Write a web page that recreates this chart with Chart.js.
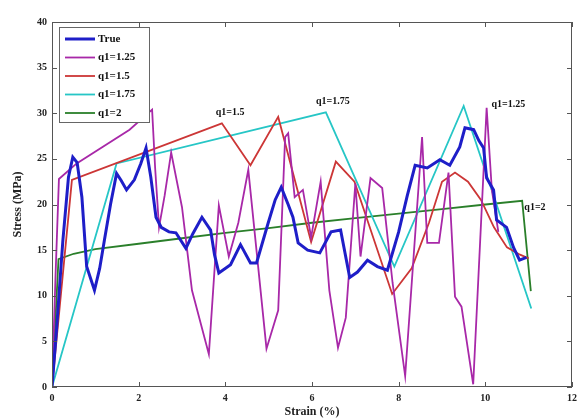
<!DOCTYPE html>
<html>
<head>
<meta charset="utf-8">
<script src="https://cdn.jsdelivr.net/npm/chart.js@4.4.0/dist/chart.umd.min.js"></script>
<style>
  html, body { margin: 0; padding: 0; background: #fff; }
</style>
</head>
<body>
<canvas id="stressChart" width="582" height="419"></canvas>
<script>
// measured curve (True)
var trueStrain = [0, 0.1, 0.25, 0.38, 0.48, 0.58, 0.69, 0.8, 0.98, 1.1, 1.21, 1.35, 1.49, 1.6, 1.72, 1.9, 2.05, 2.17, 2.28, 2.4, 2.52, 2.7, 2.86, 3.09, 3.25, 3.46, 3.66, 3.75, 3.85, 4.12, 4.35, 4.58, 4.72, 4.99, 5.15, 5.29, 5.45, 5.56, 5.68, 5.9, 6.18, 6.44, 6.66, 6.87, 7.05, 7.28, 7.51, 7.74, 8.0, 8.2, 8.38, 8.66, 8.95, 9.18, 9.41, 9.53, 9.73, 9.85, 9.96, 10.03, 10.19, 10.26, 10.49, 10.65, 10.79, 10.95];
var trueStress = [0, 6, 16, 23, 25.2, 24.6, 20.8, 13.2, 10.6, 13, 16.1, 20, 23.4, 22.6, 21.6, 22.7, 24.5, 26.2, 23, 18.6, 17.5, 17, 16.9, 15.2, 16.8, 18.6, 17.2, 14.5, 12.5, 13.4, 15.6, 13.6, 13.6, 18, 20.5, 21.9, 20, 18.6, 15.8, 15, 14.7, 17, 17.2, 12, 12.6, 13.9, 13.2, 12.8, 17, 21, 24.3, 24, 24.9, 24.3, 26.3, 28.4, 28.2, 27, 26.2, 22.9, 21.6, 18.3, 17.5, 15.3, 13.9, 14.2];

// q1 = 1.25
var q125Strain = [0, 0.08, 0.16, 0.57, 1.79, 2.31, 2.38, 2.47, 2.6, 2.75, 3.0, 3.23, 3.62, 3.85, 4.08, 4.3, 4.53, 4.95, 5.22, 5.38, 5.45, 5.6, 5.79, 5.98, 6.2, 6.4, 6.6, 6.78, 7.0, 7.12, 7.35, 7.62, 7.86, 8.15, 8.54, 8.66, 8.93, 9.15, 9.3, 9.45, 9.72, 10.03, 10.15, 10.3];
var q125Stress = [0, 12, 22.8, 24.5, 28.2, 30.4, 24, 17.5, 21, 25.7, 19.7, 10.6, 3.6, 19.9, 14.3, 18, 23.8, 4.2, 8.4, 27.4, 27.8, 20.8, 21.6, 16.4, 22.5, 10.6, 4.3, 7.6, 22.3, 14.3, 22.9, 21.8, 11.4, 1.2, 27.4, 15.8, 15.8, 23.5, 9.9, 8.8, 0.3, 30.6, 21.6, 17];

// q1 = 1.5
var q15Strain = [0, 0.46, 3.92, 4.58, 5.22, 5.98, 6.55, 6.98, 7.85, 8.3, 8.7, 9.0, 9.3, 9.6, 9.9, 10.2, 10.5, 10.8, 11.0];
var q15Stress = [0, 22.7, 28.9, 24.3, 29.6, 15.9, 24.7, 22.5, 10.2, 13, 18, 22.5, 23.5, 22.5, 20.5, 17.5, 15.3, 14.5, 14.1];

// q1 = 1.75
var q175Strain = [0, 1.49, 6.32, 7.9, 9.5, 11.06];
var q175Stress = [0, 24.5, 30.1, 13.2, 30.8, 8.6];

// q1 = 2
var q2Strain = [0, 0.15, 0.5, 1, 2, 3, 4, 5, 6, 7, 8, 9, 10, 10.85, 11.05];
var q2Stress = [0, 14, 14.6, 15.1, 15.7, 16.3, 16.9, 17.4, 18, 18.5, 19, 19.5, 20, 20.4, 10.5];

var seriesNames = ['True', 'q1=1.25', 'q1=1.5', 'q1=1.75', 'q1=2'];
var xTicks = [0, 2, 4, 6, 8, 10, 12];
var yTicks = [0, 5, 10, 15, 20, 25, 30, 35, 40];

// in-plot labels
var noteText = ['q1=1.5', 'q1=1.75', 'q1=1.25', 'q1=2'];
var noteStrain = [3.78, 6.09, 10.14, 10.9];
var noteStress = [30.1, 31.3, 31.0, 19.7];

function pts(xs, ys) {
  return xs.map(function (v, i) { return { x: v, y: ys[i] }; });
}

var serif = '"Liberation Serif", "DejaVu Serif", serif';

var framePlugin = {
  id: 'frame',
  afterDatasetsDraw: function (chart) {
    var ctx = chart.ctx, a = chart.chartArea;
    var xs = chart.scales.x, ys = chart.scales.y;
    ctx.save();
    ctx.strokeStyle = '#555';
    ctx.lineWidth = 1;
    ctx.beginPath();
    xTicks.forEach(function (t) {
      var px = Math.round(xs.getPixelForValue(t)) + 0.5;
      ctx.moveTo(px, a.bottom); ctx.lineTo(px, a.bottom - 5);
      ctx.moveTo(px, a.top); ctx.lineTo(px, a.top + 5);
    });
    yTicks.forEach(function (t) {
      var py = Math.round(ys.getPixelForValue(t)) + 0.5;
      ctx.moveTo(a.left, py); ctx.lineTo(a.left + 5, py);
      ctx.moveTo(a.right, py); ctx.lineTo(a.right - 5, py);
    });
    ctx.stroke();
    ctx.strokeRect(a.left + 0.5, a.top + 0.5, a.right - a.left - 1, a.bottom - a.top - 1);

    // text notes
    ctx.fillStyle = '#111';
    ctx.font = 'bold 10px ' + serif;
    ctx.textBaseline = 'middle';
    ctx.textAlign = 'left';
    noteText.forEach(function (t, i) {
      ctx.fillText(t, xs.getPixelForValue(noteStrain[i]), ys.getPixelForValue(noteStress[i]));
    });

    // legend box
    var lx = a.left + 7, ly = a.top + 5, lw = 90, lh = 95;
    ctx.fillStyle = '#fff';
    ctx.fillRect(lx, ly, lw, lh);
    ctx.strokeStyle = '#666';
    ctx.strokeRect(lx + 0.5, ly + 0.5, lw, lh);
    chart.data.datasets.forEach(function (ds, i) {
      var yy = ly + 12 + i * 18.5;
      ctx.strokeStyle = ds.borderColor;
      ctx.lineWidth = ds.borderWidth;
      ctx.beginPath();
      ctx.moveTo(lx + 6, yy); ctx.lineTo(lx + 36, yy);
      ctx.stroke();
      ctx.fillStyle = '#111';
      ctx.font = 'bold 11px ' + serif;
      ctx.fillText(ds.label, lx + 39, yy);
    });
    ctx.restore();
  }
};

var ctx = document.getElementById('stressChart');
var stressChart = new Chart(ctx, {
  type: 'scatter',
  data: {
    datasets: [
      { label: seriesNames[0], data: pts(trueStrain, trueStress), borderColor: '#1e1ec8', borderWidth: 3 },
      { label: seriesNames[1], data: pts(q125Strain, q125Stress), borderColor: '#a828a8', borderWidth: 1.8 },
      { label: seriesNames[2], data: pts(q15Strain, q15Stress), borderColor: '#cc3636', borderWidth: 1.8 },
      { label: seriesNames[3], data: pts(q175Strain, q175Stress), borderColor: '#26c6c6', borderWidth: 1.8 },
      { label: seriesNames[4], data: pts(q2Strain, q2Stress), borderColor: '#2a7f2a', borderWidth: 1.8 }
    ].map(function (d) {
      d.showLine = true; d.pointRadius = 0; d.tension = 0; d.fill = false;
      return d;
    })
  },
  options: {
    responsive: false,
    animation: false,
    layout: { padding: { top: 22, right: 6, left: 0, bottom: 0 } },
    plugins: { legend: { display: false }, tooltip: { enabled: false } },
    scales: {
      x: {
        type: 'linear', min: 0, max: 12,
        afterBuildTicks: function (s) { s.ticks = xTicks.map(function (v) { return { value: v }; }); },
        afterFit: function (s) { s.height = 32; },
        grid: { display: false, drawTicks: false },
        border: { display: false },
        ticks: { padding: 5, color: '#222', font: { family: serif, size: 10, weight: 'bold' } },
        title: { display: true, text: 'Strain (%)', color: '#222', padding: { top: 0, bottom: 0 }, font: { family: serif, size: 12, weight: 'bold' } }
      },
      y: {
        type: 'linear', min: 0, max: 40,
        afterBuildTicks: function (s) { s.ticks = yTicks.map(function (v) { return { value: v }; }); },
        afterFit: function (s) { s.width = 52; },
        grid: { display: false, drawTicks: false },
        border: { display: false },
        ticks: { padding: 5, color: '#222', font: { family: serif, size: 10, weight: 'bold' } },
        title: { display: true, text: 'Stress (MPa)', color: '#222', padding: { top: 11, bottom: 0 }, font: { family: serif, size: 12, weight: 'bold' } }
      }
    }
  },
  plugins: [framePlugin]
});
</script>
</body>
</html>
